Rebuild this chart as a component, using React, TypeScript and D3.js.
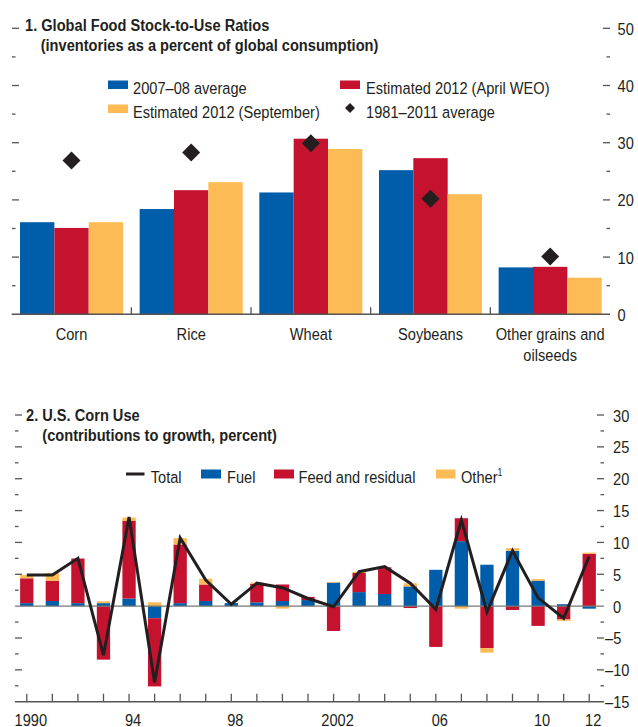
import React from "react";
import * as d3 from "d3";

// ---------- Panel 1 data ----------
const categories = ["Corn", "Rice", "Wheat", "Soybeans", "Other grains and oilseeds"];
const categoryLines = [["Corn"], ["Rice"], ["Wheat"], ["Soybeans"], ["Other grains and", "oilseeds"]];
const seriesNames = ["2007–08 average", "Estimated 2012 (April WEO)", "Estimated 2012 (September)"];
const avg0708 = [16.1, 18.4, 21.3, 25.2, 8.2];
const aprilWEO = [15.1, 21.7, 30.7, 27.3, 8.3];
const september = [16.1, 23.1, 28.9, 21.0, 6.4];
const avg19812011 = [26.9, 28.3, 29.9, 20.2, 10.1];
const topTicks = [0, 5, 10, 15, 20, 25, 30, 35, 40, 45, 50];
const topLabels = [0, 10, 20, 30, 40, 50];

// ---------- Panel 2 data ----------
const years = d3.range(1990, 2013);
const fuel = [0.47, 0.8, 0.47, 0.47, 1.2, -1.9, 0.47, 0.8, 0.47, 0.6, 0.8, 0.95, 3.7, 2.2, 1.9, 3.1, 5.7, 10.2, 6.5, 8.7, 4.0, 0.3, -0.4];
const feed = [3.9, 3.2, 7.0, -8.4, 12.2, -10.7, 9.2, 2.6, 0.0, 2.9, 2.6, 0.5, -3.9, 3.0, 4.2, -0.3, -6.4, 3.6, -6.6, -0.6, -3.1, -2.1, 8.2];
const other = [0.5, 1.2, 0.0, 0.3, 0.5, 0.6, 1.0, 0.9, 0.0, 0.2, -0.4, 0.0, 0.1, 0.2, 0.0, 0.5, 0.0, -0.4, -0.7, 0.4, 0.25, -0.2, 0.2];
const total = [4.9, 4.9, 7.5, -7.7, 14.0, -12.0, 10.7, 4.1, 0.3, 3.6, 2.9, 1.2, -0.1, 5.4, 6.2, 3.6, -0.5, 13.5, -0.9, 8.7, 1.3, -1.9, 7.8];
const bottomTicks = d3.range(-15, 30.01, 2.5);
const bottomLabels = [30, 25, 20, 15, 10, 5, 0, -5, -10, -15];
const yearLabels: [number, string][] = [[1990, "1990"], [1994, "94"], [1998, "98"], [2002, "2002"], [2006, "06"], [2010, "10"], [2012, "12"]];

const BLUE = "#005DAA";
const RED = "#C4122F";
const YELLOW = "#FDBB55";
const INK = "#231F20";
const AXIS = "#555555";
const FONT = "'Liberation Sans', Arial, sans-serif";
const SX = 0.86; // horizontal condensing of the font

const fmt = (v: number) => (v < 0 ? "–" + Math.abs(v) : String(v));

function T(props: { x: number; y: number; children: React.ReactNode; anchor?: string; size?: number; bold?: boolean }) {
  const { x, y, children, anchor = "start", size = 17, bold = false } = props;
  return (
    <text transform={`translate(${x},${y}) scale(${SX},1)`} textAnchor={anchor} fontSize={size} fontWeight={bold ? "bold" : "normal"} fill={INK}>
      {children}
    </text>
  );
}

export default function App() {
  // ---------- Top panel scales ----------
  const yT = d3.scaleLinear().domain([0, 50]).range([314.3, 28.3]);
  const xT = d3.scaleBand<string>().domain(categories).range([11.7, 610]).padding(0);
  const xS = d3.scaleBand<string>().domain(seriesNames).range([8.3, xT.bandwidth() - 8.3]).padding(0);
  const seriesVals = [avg0708, aprilWEO, september];
  const seriesCols = [BLUE, RED, YELLOW];

  // ---------- Bottom panel scales ----------
  const yB = d3.scaleLinear().domain([-15, 30]).range([701.7, 415]);
  const xB = d3.scaleBand<number>().domain(years).range([14, 602]).paddingInner(0.48).paddingOuter(0.24);
  const rows = years.map((yr, i) => ({ year: yr, fuel: fuel[i], feed: feed[i], other: other[i] }));
  const stack = d3.stack<any>().keys(["fuel", "feed", "other"]).offset(d3.stackOffsetDiverging);
  const stacked = stack(rows);
  const stackCols: Record<string, string> = { fuel: BLUE, feed: RED, other: YELLOW };
  const cx = (yr: number) => (xB(yr) as number) + xB.bandwidth() / 2;
  const line = d3.line<number>().x((_, i) => cx(years[i])).y((d) => yB(d));

  const diamond = (x: number, y: number, r: number) => `M${x},${y - r}L${x + r},${y}L${x},${y + r}L${x - r},${y}Z`;

  return (
    <svg width={638} height={727} style={{ position: "absolute", left: 0, top: 0, fontFamily: FONT }}>
      <rect width={638} height={727} fill="#fff" />
      {/* ================= TOP PANEL ================= */}
      <T x={25} y={30.5} bold>1. Global Food Stock-to-Use Ratios</T>
      <T x={40.7} y={50.5} bold>(inventories as a percent of global consumption)</T>

      {topTicks.filter((t) => t > 0).map((t) => {
        const major = t % 10 === 0;
        return (
          <g key={"tt" + t}>
            <line x1={12} x2={major ? 19 : 15.5} y1={yT(t)} y2={yT(t)} stroke={AXIS} strokeWidth={1.3} />
            <line x1={major ? 603 : 606.5} x2={610} y1={yT(t)} y2={yT(t)} stroke={AXIS} strokeWidth={1.3} />
          </g>
        );
      })}
      {topLabels.map((t) => (
        <T key={"tl" + t} x={617.5} y={yT(t) + 6.5}>{t}</T>
      ))}

      {/* legend */}
      <rect x={108} y={80.5} width={20} height={8.5} fill={BLUE} />
      <T x={133} y={94}>{seriesNames[0]}</T>
      <rect x={108} y={104.5} width={20} height={8.5} fill={YELLOW} />
      <T x={133} y={118}>{seriesNames[2]}</T>
      <rect x={340} y={80.5} width={20} height={8.5} fill={RED} />
      <T x={366} y={94}>{seriesNames[1]}</T>
      <path d={diamond(350, 108, 5)} fill={INK} />
      <T x={366} y={118}>1981–2011 average</T>

      {/* bars */}
      {categories.map((c, ci) => (
        <g key={c} transform={`translate(${xT(c)},0)`}>
          {seriesNames.map((s, si) => (
            <rect key={s} x={xS(s)} width={xS.bandwidth()} y={yT(seriesVals[si][ci])} height={yT(0) - yT(seriesVals[si][ci])} fill={seriesCols[si]} />
          ))}
        </g>
      ))}
      {categories.map((c, ci) => (
        <path key={"d" + c} d={diamond((xT(c) as number) + xT.bandwidth() / 2, yT(avg19812011[ci]), 9)} fill={INK} />
      ))}
      <line x1={11.7} x2={610} y1={yT(0)} y2={yT(0)} stroke={AXIS} strokeWidth={1.6} />
      {categories.slice(1).map((c) => (
        <line key={"sep" + c} x1={xT(c)} x2={xT(c)} y1={yT(0)} y2={yT(0) - 7} stroke={AXIS} strokeWidth={1.3} />
      ))}
      {categories.map((c, ci) =>
        categoryLines[ci].map((ln, li) => (
          <T key={"cl" + c + li} x={(xT(c) as number) + xT.bandwidth() / 2} y={340 + li * 21} anchor="middle">{ln}</T>
        ))
      )}

      {/* ================= BOTTOM PANEL ================= */}
      <T x={26} y={421} bold>2. U.S. Corn Use</T>
      <T x={42.3} y={441} bold>(contributions to growth, percent)</T>

      {bottomTicks.filter((t) => t > -15 && Math.abs(t) > 0.01).map((t) => {
        const major = Math.abs(t % 5) < 0.01;
        return (
          <g key={"bt" + t}>
            <line x1={15} x2={major ? 22 : 18.5} y1={yB(t)} y2={yB(t)} stroke={AXIS} strokeWidth={1.3} />
            <line x1={major ? 597 : 600.5} x2={604} y1={yB(t)} y2={yB(t)} stroke={AXIS} strokeWidth={1.3} />
          </g>
        );
      })}
      {bottomLabels.map((t) => (
        <T key={"bl" + t} x={t < 0 ? 605 : 613} y={yB(t) + 6.5}>{fmt(t)}</T>
      ))}

      {/* legend */}
      <line x1={126} x2={144.5} y1={474} y2={474} stroke={INK} strokeWidth={3} />
      <T x={150.7} y={482.7}>Total</T>
      <rect x={201} y={469.5} width={20} height={9} fill={BLUE} />
      <T x={227} y={482.7}>Fuel</T>
      <rect x={274} y={469.5} width={20} height={9} fill={RED} />
      <T x={298.5} y={482.7}>Feed and residual</T>
      <rect x={436} y={469.5} width={19.5} height={9} fill={YELLOW} />
      <T x={461} y={482.7}>Other<tspan fontSize={10} dy={-7}>1</tspan></T>

      {stacked.map((layer) => (
        <g key={layer.key} fill={stackCols[layer.key]}>
          {layer.map((d: any, i: number) => {
            const y0 = yB(d[0]);
            const y1 = yB(d[1]);
            return <rect key={i} x={xB(years[i])} width={xB.bandwidth()} y={Math.min(y0, y1)} height={Math.abs(y0 - y1)} />;
          })}
        </g>
      ))}
      <line x1={15} x2={604} y1={yB(0)} y2={yB(0)} stroke="#777" strokeWidth={1.3} />
      <path d={line(total) || ""} fill="none" stroke={INK} strokeWidth={3} strokeLinejoin="miter" />

      <line x1={15} x2={604} y1={yB(-15)} y2={yB(-15)} stroke={AXIS} strokeWidth={1.6} />
      {years.map((yr) => (
        <line key={"xt" + yr} x1={cx(yr)} x2={cx(yr)} y1={yB(-15)} y2={yB(-15) - 8} stroke={AXIS} strokeWidth={1.3} />
      ))}
      {yearLabels.map(([yr, lab]) => (
        <T key={"yl" + yr} x={cx(yr) + 4} y={726} anchor="middle">{lab}</T>
      ))}
    </svg>
  );
}
